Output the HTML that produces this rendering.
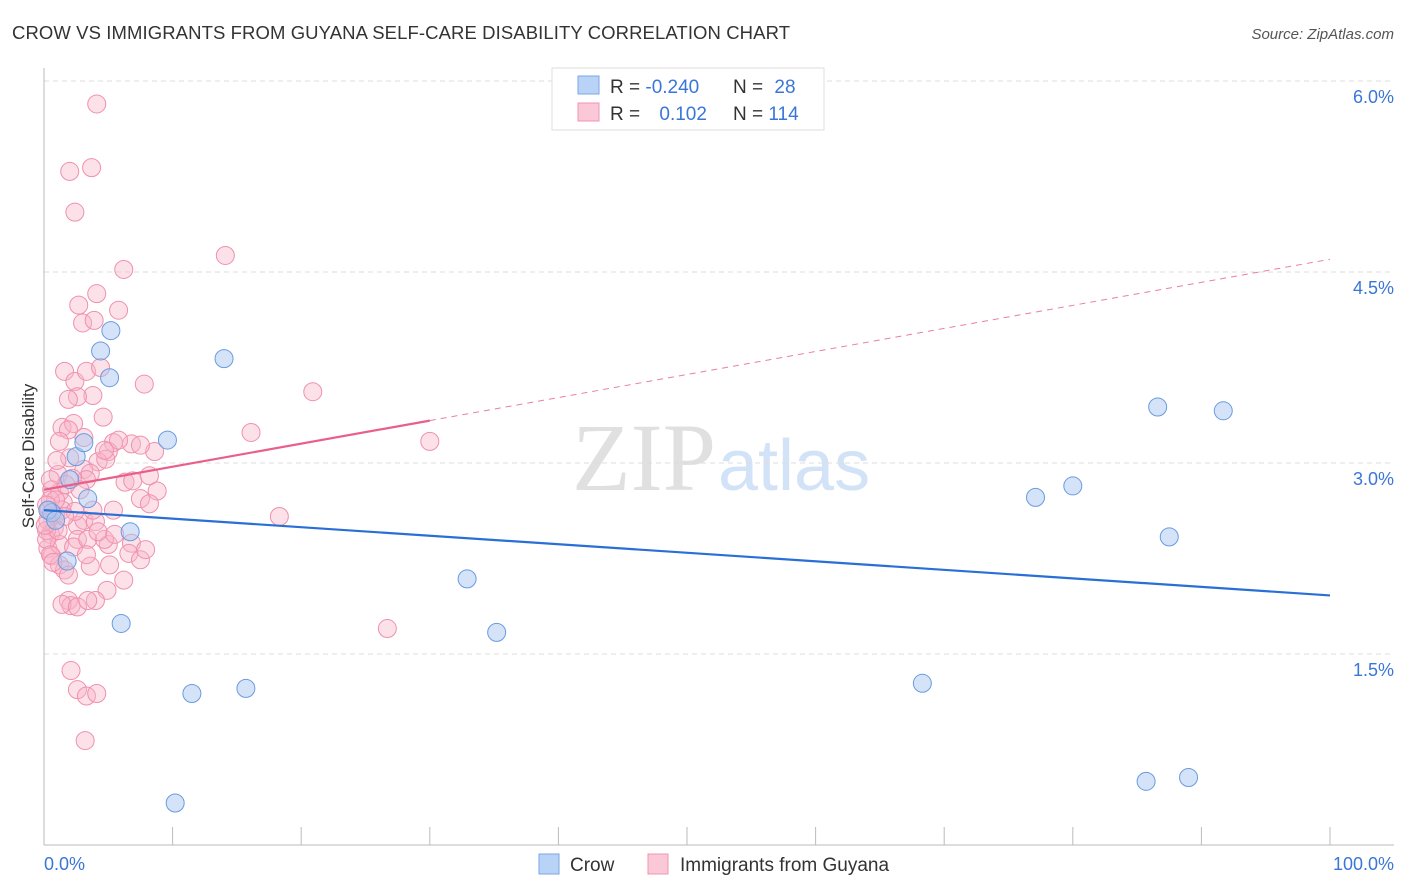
<!DOCTYPE html>
<html><head><meta charset="utf-8"><style>
body{margin:0;background:#fff;font-family:"Liberation Sans",sans-serif;}
svg{display:block}
</style></head><body>
<svg id="chart" width="1406" height="892">
<text x="12" y="39" font-size="18.5" fill="#333" textLength="778">CROW VS IMMIGRANTS FROM GUYANA SELF-CARE DISABILITY CORRELATION CHART</text>
<text x="1394" y="39" font-size="15" fill="#555" font-style="italic" text-anchor="end">Source: ZipAtlas.com</text>
<text x="716" y="490" font-size="96" fill="#e0e0e0" text-anchor="end" font-family="Liberation Serif">ZIP</text>
<text x="718" y="490" font-size="72" fill="#d3e3f7">atlas</text>
<g id="grid"></g>
<g id="axes"></g>
<g id="pts"></g>
<g id="lines"></g>
<text transform="translate(34,456) rotate(-90)" font-size="17" fill="#333" text-anchor="middle">Self-Care Disability</text>
<text x="44" y="870" font-size="18" fill="#3a76d8">0.0%</text>
<text x="1394" y="870" font-size="18" fill="#3a76d8" text-anchor="end">100.0%</text>
<g>
<rect x="552" y="68" width="272" height="62" fill="#fff" stroke="#ddd"/>
<rect x="578" y="76" width="21" height="18" fill="#b8d3f5" stroke="#7aa7e6"/>
<rect x="578" y="103" width="21" height="18" fill="#fac8d6" stroke="#f093b0"/>
<text x="610" y="93" font-size="19" fill="#333">R = <tspan fill="#3a76d8">-0.240</tspan></text>
<text x="733" y="93" font-size="19" fill="#333">N = <tspan fill="#3a76d8" dx="6">28</tspan></text>
<text x="610" y="120" font-size="19" fill="#333">R = <tspan fill="#3a76d8" dx="14">0.102</tspan></text>
<text x="733" y="120" font-size="19" fill="#333">N = <tspan fill="#3a76d8">114</tspan></text>
</g>
<g>
<rect x="539" y="854" width="20" height="20" fill="#b8d3f5" stroke="#7aa7e6"/>
<text x="570" y="871" font-size="19" fill="#333">Crow</text>
<rect x="648" y="854" width="20" height="20" fill="#fac8d6" stroke="#f093b0"/>
<text x="680" y="871" font-size="19" fill="#333">Immigrants from Guyana</text>
</g>
</svg>
<script>
const yTicks=[1.5,3.0,4.5,6.0];
const yTickLabels=["1.5%","3.0%","4.5%","6.0%"];
const crowX=[10.2,11.5,15.7,6.0,6.7,3.4,2.5,3.1,9.6,5.1,4.4,5.2,14.0,1.8,0.6,32.9,35.2,68.3,77.1,80.0,86.6,91.7,87.5,85.7,89.0,0.3,2.0,0.9];
const crowY=[0.33,1.19,1.23,1.74,2.46,2.72,3.05,3.16,3.18,3.67,3.88,4.04,3.82,2.23,2.61,2.09,1.67,1.27,2.73,2.82,3.44,3.41,2.42,0.50,0.53,2.63,2.87,2.55];
const guyX=[4.1,2.0,3.7,2.4,14.1,6.2,4.1,2.7,5.8,3.0,3.9,20.9,30.0,16.1,7.8,1.6,2.4,3.3,4.4,3.8,2.6,1.9,4.6,1.4,2.3,1.9,3.1,1.2,5.4,6.8,8.6,5.0,2.0,4.2,4.8,3.1,3.6,1.1,0.6,1.2,1.5,0.5,6.3,6.9,8.2,8.8,7.5,8.2,3.3,2.2,0.8,0.5,0.3,0.6,1.2,2.6,3.1,4.0,3.8,5.4,5.0,2.6,2.3,3.4,4.7,6.8,6.6,7.5,7.9,1.2,1.6,3.6,6.2,4.9,4.0,1.9,2.1,1.4,2.6,3.4,18.3,26.7,2.1,2.6,3.3,4.1,3.2,0.3,0.2,0.2,0.4,0.9,1.1,1.4,0.5,0.7,2.4,2.8,1.7,1.0,4.7,7.5,5.8,0.9,1.6,4.2,5.5,3.3,1.9,5.1,0.1,0.2,0.5];
const guyY=[5.82,5.29,5.32,4.97,4.63,4.52,4.33,4.24,4.20,4.10,4.12,3.56,3.17,3.24,3.62,3.72,3.64,3.72,3.75,3.53,3.52,3.50,3.36,3.28,3.31,3.26,3.20,3.17,3.16,3.15,3.09,3.09,3.04,3.01,3.03,2.95,2.92,2.91,2.79,2.77,2.69,2.71,2.85,2.86,2.90,2.78,2.72,2.68,2.87,2.88,2.49,2.44,2.33,2.27,2.36,2.51,2.55,2.54,2.63,2.63,2.36,2.40,2.34,2.40,2.40,2.37,2.29,2.24,2.32,2.20,2.16,2.19,2.08,2.00,1.92,1.92,1.88,1.89,1.87,1.92,2.58,1.70,1.37,1.22,1.17,1.19,0.82,2.55,2.47,2.40,2.63,2.59,2.47,2.63,2.28,2.22,2.62,2.79,2.83,3.02,3.10,3.14,3.18,2.71,2.58,2.46,2.44,2.28,2.12,2.20,2.51,2.67,2.87];
const crowTrend=[2.63,1.96];
const guyTrend=[2.79,4.60];
const guySolidEnd=30;
const NS="http://www.w3.org/2000/svg";
const X=v=>44+v*12.86, Y=v=>845-v*127.33;
function mk(tag,attrs,parent){const e=document.createElementNS(NS,tag);for(const k in attrs)e.setAttribute(k,attrs[k]);parent.appendChild(e);return e;}
const grid=document.getElementById('grid'),axes=document.getElementById('axes'),pts=document.getElementById('pts'),lines=document.getElementById('lines');
yTicks.forEach((t,i)=>{
 const l=mk('line',{x1:44,x2:1394,y1:Y(t),y2:Y(t),stroke:'#ddd','stroke-dasharray':'5,4'},grid);
 
 
 const tx=mk('text',{x:1394,y:Y(t)+22,'font-size':18,fill:'#3a76d8','text-anchor':'end'},grid);
 tx.textContent=yTickLabels[i];
 
 
});
mk('line',{x1:44,x2:44,y1:68,y2:845,stroke:'#bbb'},axes);
mk('line',{x1:44,x2:1394,y1:845,y2:845,stroke:'#bbb'},axes);
for(let i=0;i<=10;i++){const t=mk('line',{x1:X(i*10),x2:X(i*10),y1:827,y2:845,stroke:'#bbb'},axes);
 
 }
guyX.forEach((x,i)=>{const c=mk('circle',{cx:X(x),cy:Y(guyY[i]),r:9,fill:'rgba(248,180,200,0.4)',stroke:'#f090ae','stroke-width':1},pts);
 
 });
crowX.forEach((x,i)=>{const c=mk('circle',{cx:X(x),cy:Y(crowY[i]),r:9,fill:'rgba(170,200,240,0.5)',stroke:'#6a9be0','stroke-width':1},pts);
 
 });
const cl=mk('line',{x1:X(0),y1:Y(crowTrend[0]),x2:X(100),y2:Y(crowTrend[1]),stroke:'#2a6fd6','stroke-width':2.2},lines);


const gm=guyTrend[0]+(guyTrend[1]-guyTrend[0])*guySolidEnd/100;
const gl=mk('line',{x1:X(0),y1:Y(guyTrend[0]),x2:X(guySolidEnd),y2:Y(gm),stroke:'#e8608a','stroke-width':2.2},lines);


const gd=mk('line',{x1:X(guySolidEnd),y1:Y(gm),x2:X(100),y2:Y(guyTrend[1]),stroke:'#e8809f','stroke-width':1,'stroke-dasharray':'6,5'},lines);


</script>
</body></html>
